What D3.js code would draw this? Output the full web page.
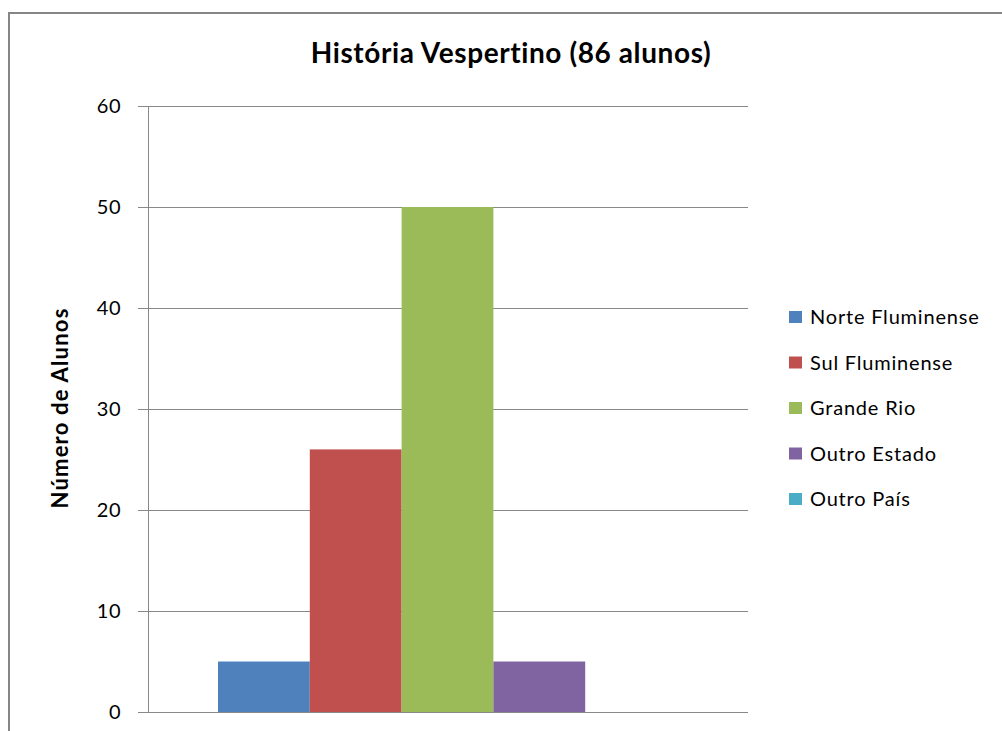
<!DOCTYPE html>
<html>
<head>
<meta charset="utf-8">
<script src="https://cdn.jsdelivr.net/npm/d3@7"></script>
<style>
  body { margin: 0; background: #fff; }
  text { font-family: Lato, "Open Sans", sans-serif; }
</style>
</head>
<body>
<script>
// data
var categories = ["Norte Fluminense", "Sul Fluminense", "Grande Rio", "Outro Estado", "Outro País"];
var values = [5, 26, 50, 5, 0];
var colors = ["#4f81bd", "#c0504d", "#9bbb59", "#8064a2", "#4bacc6"];
var yTicks = [0, 10, 20, 30, 40, 50, 60];

var W = 1002, H = 731;
var plot = {left: 148, right: 748, top: 106, bottom: 712};

var svg = d3.select("body").append("svg")
    .attr("width", W).attr("height", H);

// outer chart border
svg.append("rect")
    .attr("x", 9).attr("y", 13)
    .attr("width", W + 10).attr("height", H + 10)
    .attr("fill", "#fff").attr("stroke", "#868686").attr("stroke-width", 2);

var y = d3.scaleLinear().domain([0, 60]).range([plot.bottom, plot.top]);
// one group, five series side by side with gaps at each end
var x = d3.scaleBand().domain(categories)
    .range([plot.left + 70, plot.right - 71]).padding(0);

// gridlines + tick marks
svg.append("g")
    .attr("transform", "translate(" + plot.left + ",0)")
    .call(d3.axisLeft(y).tickValues(yTicks).tickSize(-(plot.right - plot.left)).tickFormat(""))
    .call(function(g){
        g.select(".domain").remove();
        g.selectAll("line").attr("stroke", "#888").attr("stroke-width", 1).attr("x1", -10);
    });

// y axis line
svg.append("line")
    .attr("x1", plot.left + 0.5).attr("x2", plot.left + 0.5)
    .attr("y1", plot.top).attr("y2", plot.bottom)
    .attr("stroke", "#888");

// tick labels
svg.append("g").selectAll("text")
    .data(yTicks).enter().append("text")
    .attr("x", 121).attr("y", function(d){ return y(d); })
    .attr("dy", "0.36em")
    .attr("text-anchor", "end")
    .attr("font-size", 20).attr("letter-spacing", 0.5).attr("fill", "#000")
    .text(function(d){ return d; });

// bars
svg.append("g").selectAll("rect")
    .data(values).enter().append("rect")
    .attr("x", function(d, i){ return x(categories[i]); })
    .attr("width", x.bandwidth())
    .attr("y", function(d){ return y(d); })
    .attr("height", function(d){ return y(0) - y(d); })
    .attr("fill", function(d, i){ return colors[i]; });

// redraw baseline over bars
svg.append("line")
    .attr("x1", plot.left - 10).attr("x2", plot.right)
    .attr("y1", y(0) + 0.5).attr("y2", y(0) + 0.5)
    .attr("stroke", "#888");

// title
svg.append("text")
    .attr("x", 511).attr("y", 63)
    .attr("text-anchor", "middle")
    .attr("font-size", 28).attr("font-weight", "bold").attr("letter-spacing", 0.6)
    .text("História Vespertino (86 alunos)");

// y axis title
svg.append("text")
    .attr("transform", "translate(68,408) rotate(-90)")
    .attr("text-anchor", "middle")
    .attr("font-size", 22).attr("font-weight", "bold").attr("letter-spacing", 1.2)
    .text("Número de Alunos");

// legend
var legend = svg.append("g").selectAll("g")
    .data(categories).enter().append("g")
    .attr("transform", function(d, i){ return "translate(789," + (317 + i * 45.5) + ")"; });
legend.append("rect")
    .attr("x", 0).attr("y", -6).attr("width", 13).attr("height", 12)
    .attr("fill", function(d, i){ return colors[i]; });
legend.append("text")
    .attr("x", 21).attr("y", 0).attr("dy", "0.36em")
    .attr("font-size", 20).attr("letter-spacing", 0.8)
    .text(function(d){ return d; });
</script>
</body>
</html>
